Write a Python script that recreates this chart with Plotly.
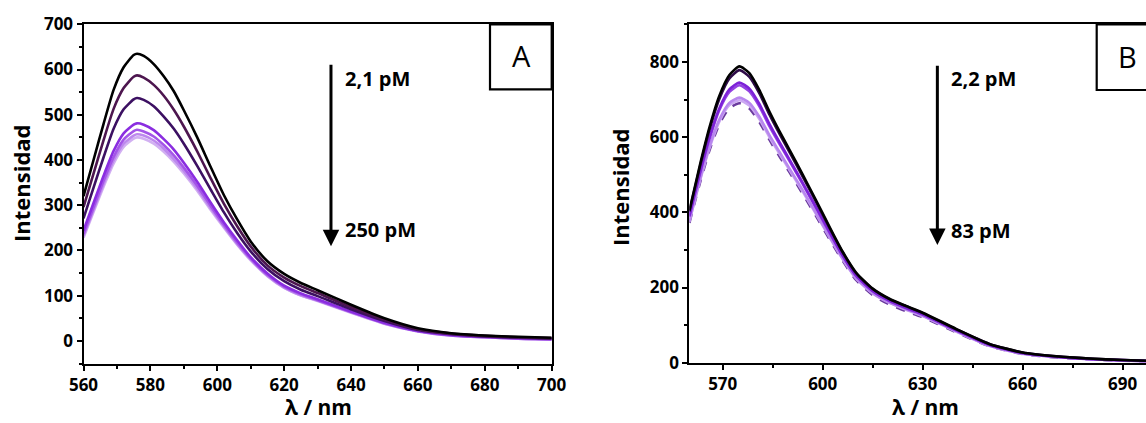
import plotly.graph_objects as go

# ---------------- data ----------------
wl_a = [560, 563, 566, 569, 572, 575, 576, 578, 581, 584, 587, 590, 594, 598, 602,
        606, 610, 615, 620, 625, 630, 640, 650, 660, 670, 680, 690, 700]
a1 = [320, 400, 480, 555, 605, 632, 635, 630, 612, 585, 552, 510, 450, 385, 322,
      268, 220, 176, 148, 128, 112, 80, 50, 28, 17, 12, 9, 7]
a2 = [296, 370, 444, 513, 559, 584, 587, 582, 566, 542, 511, 474, 419, 360, 303,
      253, 209, 167, 140, 121, 106, 75, 47, 26, 16, 11, 8, 6]
a3 = [271, 339, 406, 469, 512, 534, 537, 533, 519, 496, 469, 436, 387, 335, 284,
      238, 198, 159, 132, 113, 99, 70, 44, 24, 15, 10, 7, 5]
a4 = [244, 305, 365, 420, 459, 478, 481, 478, 466, 446, 423, 394, 352, 306, 262,
      222, 185, 149, 122, 105, 92, 65, 40, 22, 13, 9, 6, 4]
a5 = [236, 295, 354, 407, 445, 464, 467, 463, 452, 433, 410, 383, 343, 299, 256,
      217, 182, 146, 120, 103, 90, 64, 39, 22, 12, 8, 5, 4]
a6 = [232, 290, 347, 399, 436, 454, 457, 454, 443, 425, 402, 376, 337, 294, 253,
      214, 180, 144, 118, 101, 89, 63, 38, 21, 12, 8, 5, 4]
a7 = [228, 285, 341, 392, 429, 447, 450, 447, 436, 418, 396, 370, 332, 290, 250,
      212, 178, 143, 117, 100, 88, 62, 38, 21, 12, 8, 5, 4]
series_a = [a7, a6, a5, a4, a3, a2, a1]
colors_a = ["#d2b0f2", "#bd88ee", "#a455e8", "#8a2de0", "#3c1062", "#4d164f", "#000000"]

wl_b = [560, 563, 566, 569, 572, 575, 578, 581, 584, 587, 590, 594, 598, 602,
        606, 610, 615, 620, 625, 630, 640, 650, 660, 670, 680, 690, 697]
b1 = [405, 520, 625, 710, 765, 788, 770, 725, 668, 616, 567, 500, 432, 362,
      295, 240, 197, 170, 151, 133, 90, 50, 27, 17, 11, 7, 5]
b2 = [402, 515, 619, 702, 756, 778, 760, 716, 660, 609, 561, 495, 428, 359,
      293, 238, 196, 169, 150, 132, 89, 50, 27, 17, 11, 7, 5]
b3 = [391, 500, 599, 677, 727, 745, 729, 688, 635, 587, 541, 478, 414, 349,
      285, 232, 191, 165, 146, 129, 87, 48, 26, 16, 10, 7, 5]
b4 = [388, 496, 594, 672, 720, 738, 722, 682, 629, 582, 537, 475, 411, 346,
      284, 231, 190, 164, 145, 128, 86, 47, 25, 16, 10, 6, 4]
b5 = [377, 481, 574, 647, 691, 705, 691, 654, 605, 561, 517, 459, 398, 336,
      277, 225, 185, 160, 142, 125, 84, 45, 24, 15, 9, 6, 4]
b6 = [375, 478, 570, 642, 685, 698, 684, 648, 600, 556, 513, 455, 395, 334,
      275, 224, 184, 159, 141, 124, 83, 45, 24, 15, 9, 6, 4]
b7 = [372, 473, 564, 635, 677, 690, 676, 640, 593, 549, 507, 449, 390, 329,
      271, 220, 180, 155, 137, 121, 81, 44, 23, 14, 9, 5, 4]
series_b = [b7, b6, b5, b4, b3, b2, b1]
colors_b = ["#6a3a9e", "#cba8f2", "#b887ee", "#9442e2", "#7d22d8", "#2e0b48", "#000000"]
dash_b = ["dash", "solid", "solid", "solid", "solid", "solid", "solid"]

# ---------------- layout helpers ----------------
W, H = 1146, 423
def px(x):
    return x / W
def py(y):
    return 1 - y / H

FONT = "Open Sans"
fig = go.Figure()

for ys, c in zip(series_a, colors_a):
    fig.add_trace(go.Scatter(x=wl_a, y=ys, mode="lines", xaxis="x", yaxis="y",
                             line=dict(color=c, width=2.6, shape="spline", smoothing=0.6),
                             showlegend=False, hoverinfo="skip"))
for ys, c, d in zip(series_b, colors_b, dash_b):
    fig.add_trace(go.Scatter(x=wl_b, y=ys, mode="lines", xaxis="x2", yaxis="y2",
                             line=dict(color=c, width=2.6, shape="spline", smoothing=0.6, dash=d),
                             showlegend=False, hoverinfo="skip"))

tickfont = dict(family=FONT, size=17, color="black", weight="bold")
common_axis = dict(showline=True, linecolor="black", linewidth=2, ticks="outside",
                   ticklen=5, tickwidth=2, tickcolor="black", showgrid=False,
                   zeroline=False, tickfont=tickfont, automargin=False)

fig.update_layout(
    width=W, height=H, margin=dict(l=0, r=0, t=0, b=0),
    paper_bgcolor="white", plot_bgcolor="white",
    xaxis=dict(domain=[px(83.5), px(551.7)], range=[560, 700], dtick=20, tick0=560,
               anchor="y", mirror=True,
               minor=dict(dtick=10, ticks="outside", ticklen=3, tickwidth=1.5, tickcolor="black"),
               **common_axis),
    yaxis=dict(domain=[py(363.5), py(24.3)], range=[-50, 700], dtick=100, tick0=0,
               anchor="x", mirror=True,
               minor=dict(dtick=50, ticks="outside", ticklen=3, tickwidth=1.5, tickcolor="black"),
               **common_axis),
    xaxis2=dict(domain=[px(689.4), 1.0], range=[560, 697], dtick=30, tick0=570,
                anchor="y2", mirror=True,
                minor=dict(dtick=15, ticks="outside", ticklen=3, tickwidth=1.5, tickcolor="black"),
                **common_axis),
    yaxis2=dict(domain=[py(362.7), py(24.3)], range=[0, 900], dtick=200, tick0=0,
                anchor="x2", mirror=False,
                minor=dict(dtick=100, ticks="outside", ticklen=3, tickwidth=1.5, tickcolor="black"),
                **common_axis),
)

titlefont = dict(family=FONT, size=22, color="black", weight="bold")
xtitlefont = dict(family=FONT, size=21, color="black", weight="bold")
labfont = dict(family=FONT, size=20, color="black", weight="bold")

def note(text, x, y, font, xref="paper", yref="paper", xanchor="center", angle=0):
    return dict(text=text, x=x, y=y, xref=xref, yref=yref, xanchor=xanchor,
                yanchor="middle", textangle=angle, showarrow=False, font=font)

annotations = [
    note("Intensidad", px(21), py(183), titlefont, angle=-90),
    note("Intensidad", px(620), py(187), titlefont, angle=-90),
    note("λ / nm", px(318), py(407), xtitlefont),
    note("λ / nm", px(925), py(407), xtitlefont),
    # arrows
    dict(x=634, y=209, ax=634, ay=614, xref="x", yref="y", axref="x", ayref="y",
         text="", showarrow=True, arrowhead=2, arrowsize=1.1, arrowwidth=3, arrowcolor="black"),
    dict(x=634.4, y=313, ax=634.4, ay=794, xref="x2", yref="y2", axref="x2", ayref="y2",
         text="", showarrow=True, arrowhead=2, arrowsize=1.1, arrowwidth=3, arrowcolor="black"),
    note("2,1 pM", 637.7, 580, labfont, "x", "y", "left"),
    note("250 pM", 637.7, 246, labfont, "x", "y", "left"),
    note("2,2 pM", 638, 756, labfont, "x2", "y2", "left"),
    note("83 pM", 638, 351, labfont, "x2", "y2", "left"),
    note("A", px(521), py(56), dict(family=FONT, size=29, color="black")),
    note("B", px(1127), py(57), dict(family=FONT, size=29, color="black")),
]
fig.update_layout(annotations=annotations)

fig.update_layout(shapes=[
    dict(type="rect", xref="paper", yref="paper", x0=px(490), x1=px(551.7),
         y0=py(89.3), y1=py(24.3), line=dict(color="black", width=2.2), fillcolor="white",
         layer="above"),
    dict(type="rect", xref="paper", yref="paper", x0=px(1096.7), x1=px(1160),
         y0=py(90), y1=py(24.3), line=dict(color="black", width=2.2), fillcolor="white",
         layer="above"),
])

fig.write_html("out.html", config={"displayModeBar": False},
               post_script="document.body.style.margin='0px';document.body.style.overflow='hidden';")
